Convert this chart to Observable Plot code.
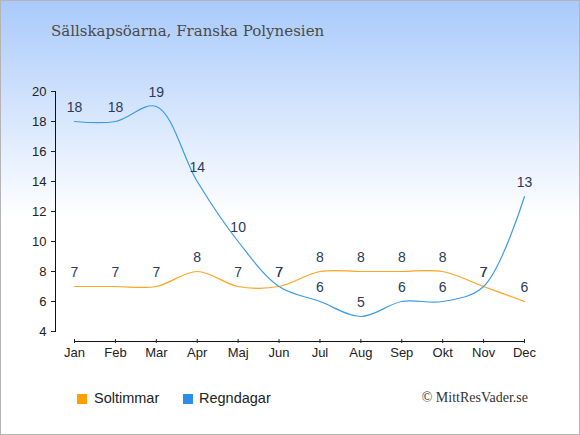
<!DOCTYPE html>
<html><head><meta charset="utf-8">
<script src="https://cdn.jsdelivr.net/npm/d3@7"></script>
<script src="https://cdn.jsdelivr.net/npm/@observablehq/plot@0.6"></script>
<style>
body{margin:0}
#wrap{position:relative;width:580px;height:435px;box-sizing:border-box;border:1px solid #b4b4b4;background:linear-gradient(to bottom,#a9cafb 0%,#ffffff 50%,#ffffff 100%);overflow:hidden;font-family:"Liberation Sans",Arial,sans-serif}
#title{position:absolute;left:50px;top:23px;font-family:"DejaVu Serif",serif;font-size:15px;color:#4a4a4a;line-height:1;white-space:nowrap}
#chart{position:absolute;left:-1px;top:-1px;width:580px;height:370px}
.sw{position:absolute;width:10px;height:10px;top:393px}
.lt{position:absolute;top:388px;font-size:14.5px;color:#222;line-height:18px;white-space:nowrap}
#copy{position:absolute;right:51px;top:388px;font-family:"Liberation Serif","Times New Roman",serif;font-size:14px;color:#333;line-height:18px;white-space:nowrap}
</style></head>
<body>
<div id="wrap">
  <div id="title">Sällskapsöarna, Franska Polynesien</div>
  <div id="chart"></div>
  <div class="sw" id="sw0"></div><div class="lt" id="lt0"></div>
  <div class="sw" id="sw1"></div><div class="lt" id="lt1"></div>
  <div id="copy">© MittResVader.se</div>
</div>
<script>
const months = ["Jan","Feb","Mar","Apr","Maj","Jun","Jul","Aug","Sep","Okt","Nov","Dec"];
const soltimmar = [7,7,7,8,7,7,8,8,8,8,7,6];
const regndagar = [18,18,19,14,10,7,6,5,6,6,7,13];
const yTicks = [4,6,8,10,12,14,16,18,20];
const seriesNames = ["Soltimmar","Regndagar"];
const seriesColors = ["#ffa51f","#3d9be9"];
const swatchColors = ["#ff9f00","#2b8ee8"];

const rows = months.flatMap((m,i)=>[
  {month:m, value:soltimmar[i], series:seriesNames[0]},
  {month:m, value:regndagar[i], series:seriesNames[1]}
]);

const chart = Plot.plot({
  width:580, height:370,
  marginLeft:55, marginRight:56, marginTop:91, marginBottom:29,
  style:{background:"transparent", fontFamily:"'Liberation Sans', Arial, sans-serif", overflow:"visible"},
  x:{type:"point", domain:months, range:[74,524], padding:0, round:false},
  y:{domain:[4,20], range:[331,91]},
  color:{domain:seriesNames, range:seriesColors},
  marks:[
    Plot.frame({anchor:"left", insetBottom:10, stroke:"#111"}),
    Plot.frame({anchor:"bottom", insetLeft:19, stroke:"#111"}),
    Plot.axisY({ticks:yTicks, tickSize:4, tickPadding:5, fontSize:13, color:"#222", label:null}),
    Plot.axisX({tickSize:4, dy:-2, tickPadding:4, fontSize:13, color:"#222", label:null}),
    Plot.line(rows,{x:"month", y:"value", z:"series", stroke:"series", curve:"catmull-rom", strokeWidth:1.2}),
    Plot.text(rows,{x:"month", y:"value", text:"value", dy:-14, fill:"#2b3a57", fontSize:14})
  ]
});
document.getElementById("chart").appendChild(chart);

const swX = [76, 182], ltX = [93, 198];
seriesNames.forEach((n,i)=>{
  const s = document.getElementById("sw"+i);
  s.style.left = swX[i]+"px"; s.style.background = swatchColors[i];
  const t = document.getElementById("lt"+i);
  t.style.left = ltX[i]+"px"; t.textContent = n;
});
</script>
</body></html>
